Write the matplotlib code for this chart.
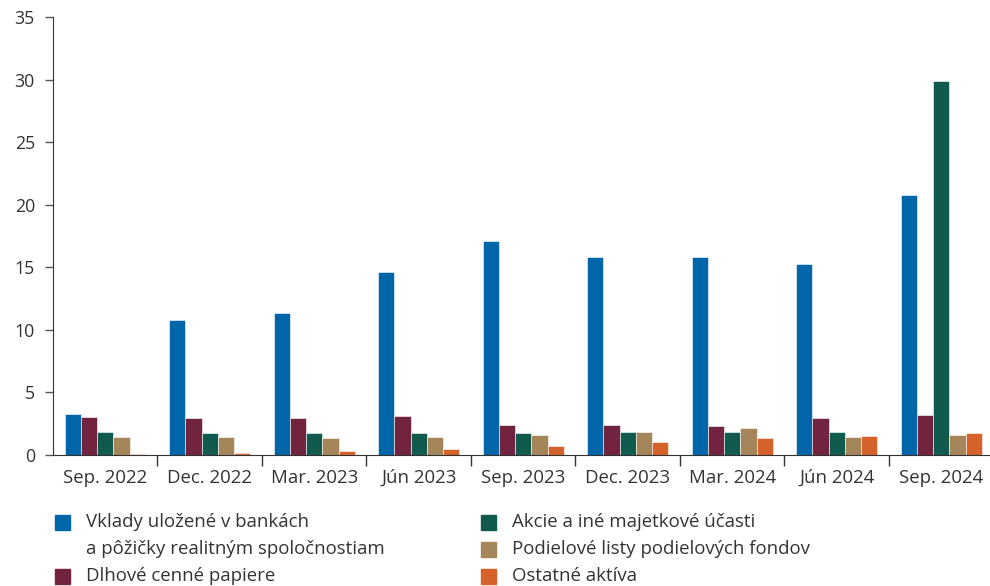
import matplotlib
matplotlib.use("Agg")
import matplotlib.pyplot as plt
from matplotlib.patches import Rectangle
import numpy as np

plt.rcParams['font.family'] = ['Open Sans', 'DejaVu Sans']

categories = ["Sep. 2022", "Dec. 2022", "Mar. 2023", "Jún 2023", "Sep. 2023",
              "Dec. 2023", "Mar. 2024", "Jún 2024", "Sep. 2024"]

vklady = [3.25, 10.8, 11.35, 14.65, 17.12, 15.85, 15.8, 15.3, 20.8]
dlhove = [3.06, 2.96, 2.98, 3.1, 2.38, 2.38, 2.35, 2.98, 3.18]
akcie = [1.86, 1.76, 1.76, 1.78, 1.78, 1.82, 1.85, 1.85, 29.9]
podielove = [1.44, 1.46, 1.38, 1.48, 1.58, 1.88, 2.17, 1.42, 1.58]
ostatne = [0.08, 0.2, 0.29, 0.47, 0.76, 1.05, 1.35, 1.5, 1.77]

series_labels = ["Vklady uložené v bankách\na pôžičky realitným spoločnostiam",
                 "Dlhové cenné papiere",
                 "Akcie a iné majetkové účasti",
                 "Podielové listy podielových fondov",
                 "Ostatné aktíva"]
series = [vklady, dlhove, akcie, podielove, ostatne]
colors = ["#0066AA", "#722340", "#115B4E", "#A5855A", "#D4622A"]
yticks = [0, 5, 10, 15, 20, 25, 30, 35]

txt = "#333333"
fig = plt.figure(figsize=(9.9, 5.86), dpi=100)
ax = fig.add_axes([0.0535, 0.2235, 0.950, 0.7475])

x = np.arange(len(categories))
w = 0.155
for i, (vals, c) in enumerate(zip(series, colors)):
    ax.bar(x + (i - 2) * w, vals, width=w, color=c, edgecolor="white",
           linewidth=0.4, zorder=2)

ax.set_xlim(-0.5, len(categories) - 0.5)
ax.set_ylim(0, 35)
ax.set_yticks(yticks)
ax.set_yticklabels([str(v) for v in yticks])
ax.set_xticks(x)
ax.set_xticklabels(categories)
ax.set_xticks(np.arange(len(categories)) + 0.5, minor=True)
ax.tick_params(axis='x', which='major', length=0, pad=10, labelsize=13.4, colors=txt)
ax.tick_params(axis='x', which='minor', length=8, width=1, color="#333333")
ax.tick_params(axis='y', length=6, width=1, pad=7, labelsize=12.8, colors=txt, color="#555555")
for s in ["top", "right"]:
    ax.spines[s].set_visible(False)
ax.spines["left"].set_color("#333333")
ax.spines["bottom"].set_color("#333333")

W, H = 990, 586
# legend (manual, two columns)
legend_pos = [(55, 522), (55, 576), (481, 522), (481, 549), (481, 576)]
for (px, py), lab, c in zip(legend_pos, series_labels, colors):
    fig.patches.append(Rectangle(((px) / W, 1 - (py + 7.5) / H), 15 / W, 15 / H,
                                 transform=fig.transFigure, color=c, figure=fig))
    lines = lab.split("\n")
    for k, line in enumerate(lines):
        fig.text((px + 31) / W, 1 - (py + 27 * k) / H, line, ha="left", va="center",
                 fontsize=13.4, color=txt)

fig.savefig("out.png", dpi=100)
